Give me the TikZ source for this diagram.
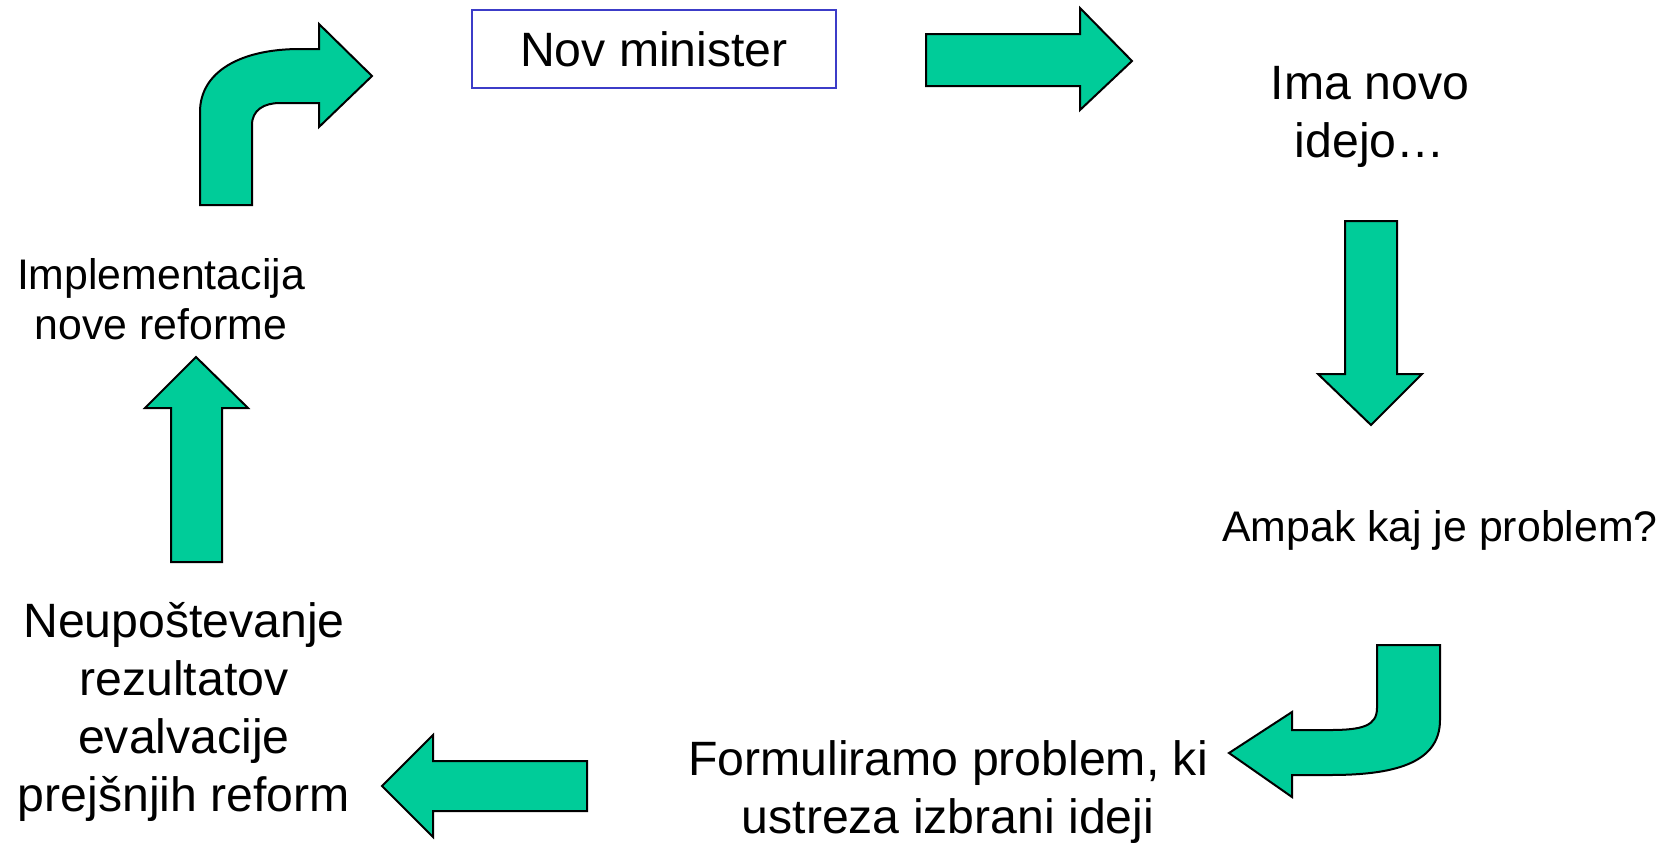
\documentclass[tikz,border=0pt]{standalone}
\usepackage{fontspec}
\setmainfont{Liberation Sans}
\usepackage{tikz}
\usetikzlibrary{positioning}
\definecolor{arrgreen}{RGB}{0,204,153}
\definecolor{boxblue}{RGB}{60,60,200}
\tikzset{
  bigtxt/.style={font=\fontsize{24.1}{29}\selectfont, align=center, inner sep=0pt},
  smalltxt/.style={font=\fontsize{21.4}{25}\selectfont, align=center, inner sep=0pt},
  minbox/.style={draw=boxblue, line width=1pt, minimum width=182pt, minimum height=39pt, inner sep=0pt, font=\fontsize{24.1}{29}\selectfont},
  blk/.style={draw=black, line width=1pt, fill=arrgreen, line join=miter},
}
\begin{document}
\begin{tikzpicture}[x=0.5pt,y=-0.5pt]
\useasboundingbox (0,0) rectangle (1666,842);
\node[minbox] (nmin) at (654,49) {Nov minister};
\node[bigtxt] (nidea) at (1370,117) {Ima novo\\idejo…};
\node[smalltxt] (nprob) at (1440,530) {Ampak kaj je problem?};
\node[bigtxt] (nform) at (948,792) {Formuliramo problem, ki\\ustreza izbrani ideji};
\node[bigtxt] (nneglect) at (184,712) {Neupoštevanje\\rezultatov\\evalvacije\\prejšnjih reform};
\node[smalltxt] (nimpl) at (161,299) {Implementacija\\nove reforme};
\draw[blk] (926,34) -- (1080,34) -- (1080,8) -- (1132,61) -- (1080,110) -- (1080,86) -- (926,86) -- cycle;
\draw[blk] (1345,221) -- (1397,221) -- (1397,374) -- (1422,374) -- (1371,425) -- (1318,374) -- (1345,374) -- cycle;
\draw[blk] (1377,645) -- (1440,645) -- (1440,720) .. controls (1440,765) and (1390,775) .. (1330,775)
  -- (1292,775) -- (1292,797) -- (1229,753) -- (1292,712) -- (1292,730) -- (1330,730)
  .. controls (1362,730) and (1377,726) .. (1377,708) -- cycle;
\draw[blk] (587,761) -- (433,761) -- (433,735) -- (382,786) -- (433,837) -- (433,811) -- (587,811) -- cycle;
\draw[blk] (171,562) -- (171,408) -- (145,408) -- (196,357) -- (248,408) -- (222,408) -- (222,562) -- cycle;
\draw[blk] (200,205) -- (200,112) .. controls (200,72) and (240,49) .. (300,49) -- (319,49) -- (319,24)
  -- (372,76) -- (319,127) -- (319,103) -- (280,103) .. controls (264,103) and (252,110) .. (252,125)
  -- (252,205) -- cycle;
\end{tikzpicture}
\end{document}
